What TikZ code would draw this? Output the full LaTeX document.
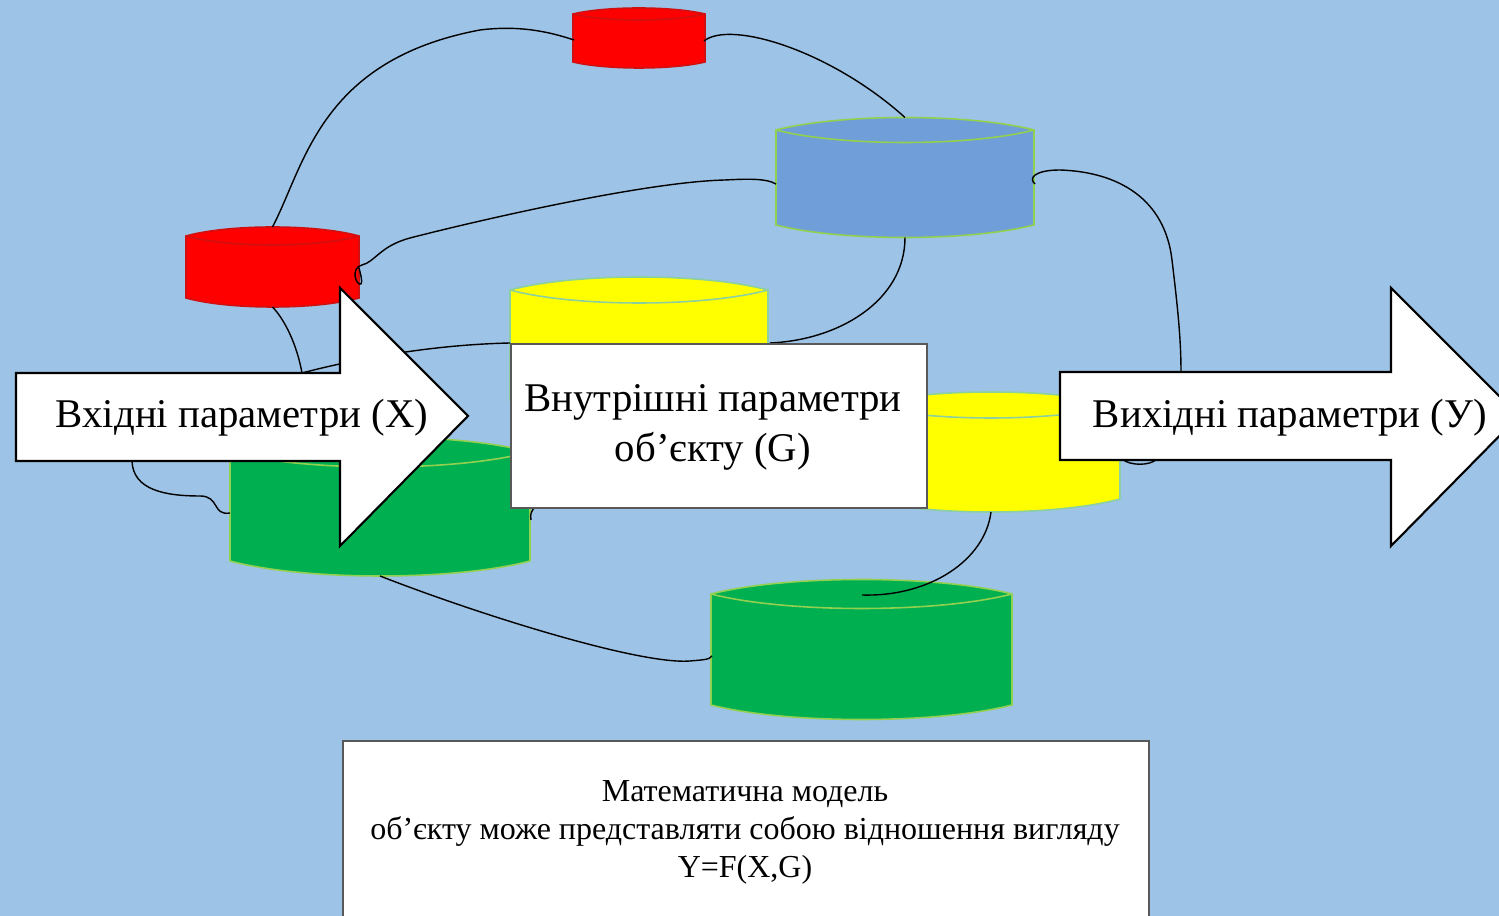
\documentclass[tikz,border=0pt]{standalone}
\usepackage{fontspec}
\setmainfont{Liberation Serif}
\usetikzlibrary{calc}
\definecolor{bgblue}{HTML}{9DC3E6}
\definecolor{cylred}{HTML}{FF0000}
\definecolor{cylredline}{HTML}{D01010}
\definecolor{cylblue}{HTML}{6F9ED8}
\definecolor{cylyellow}{HTML}{FFFF00}
\definecolor{cylgreen}{HTML}{00B050}
\definecolor{cylline}{HTML}{92D050}
\definecolor{cylcyan}{HTML}{8CCFA0}
\definecolor{boxline}{HTML}{595959}
% #1 name, #2 x1, #3 x2, #4 y top corners, #5 y bottom corners, #6 arc depth, #7 fill, #8 line
\newcommand{\mycyl}[8]{%
  \path[fill=#7,draw=#8,line width=0.45pt]
    (#2,#4) .. controls +({(#3-#2)/4},{-4*#6/3}) and +({-(#3-#2)/4},{-4*#6/3}) .. (#3,#4)
    -- (#3,#5) .. controls +({-(#3-#2)/4},{4*#6/3}) and +({(#3-#2)/4},{4*#6/3}) .. (#2,#5) -- cycle;
  \draw[#8,line width=0.45pt]
    (#2,#4) .. controls +({(#3-#2)/4},{4*#6/3}) and +({-(#3-#2)/4},{4*#6/3}) .. (#3,#4);
  \coordinate (#1-top) at ({(#2+#3)/2},{#4-#6});
  \coordinate (#1-bot) at ({(#2+#3)/2},{#5+#6});
}
\tikzset{
  conn/.style={draw=black,line width=0.4pt},
  bigarrow/.style={draw=black,fill=white,line width=0.6pt,line join=miter},
  bigtext/.style={font=\fontsize{11.6}{14.2}\selectfont,align=center,inner sep=0pt},
  smalltext/.style={font=\fontsize{9.1}{10.8}\selectfont,align=center,inner sep=0pt},
  whitebox/.style={draw=boxline,fill=white,line width=0.5pt}
}
\begin{document}
\begin{tikzpicture}[x=0.01cm,y=-0.01cm]
\useasboundingbox (0,0) rectangle (1499,916);
\clip (0,0) rectangle (1499,916);
\fill[bgblue] (0,0) rectangle (1499,916);

% cylinders
\mycyl{redT}{573}{705}{14}{62}{6}{cylred}{cylredline}
\mycyl{redL}{186}{359}{236}{298}{9}{cylred}{cylredline}
\mycyl{blue}{776}{1034}{130}{225}{12.5}{cylblue}{cylline}
\mycyl{yelU}{510}{768}{290}{400}{13}{cylyellow}{cylcyan}
\mycyl{greenL}{230}{530}{452}{561}{15}{cylgreen}{cylline}
\mycyl{yelR}{862}{1120}{405}{499}{13}{cylyellow}{cylcyan}
\mycyl{greenB}{711}{1012}{594}{705}{14.5}{cylgreen}{cylline}

% named end points
\coordinate (redT-l) at (574,40);
\coordinate (redT-r) at (704,41);
\coordinate (redL-r) at (359,268);
\coordinate (blue-l) at (776,184);
\coordinate (blue-r) at (1035,184);
\coordinate (box-tl) at (510,343);
\coordinate (box-t) at (770,343);
\coordinate (in-top) at (302,373);
\coordinate (in-bot) at (132,461);
\coordinate (out-top) at (1181,372);
\coordinate (greenL-l) at (230,513);
\coordinate (greenB-l) at (712,656);
\coordinate (greenB-in) at (862,595);
\coordinate (out-b1) at (1122,459);
\coordinate (out-b2) at (1157,459);
\coordinate (box-bl) at (535,507);
\coordinate (greenL-r) at (531,520);

% connectors
\draw[conn] (redL-top) .. controls (305,165) and (320,60) .. (480,30)
  .. controls (520,25) and (550,32) .. (redT-l);
\draw[conn] (redT-r) .. controls (730,20) and (830,50) .. (blue-top);
\draw[conn] (blue-l) .. controls (766,178) and (745,179) .. (725,180)
  .. controls (640,182) and (460,225) .. (410,238)
  .. controls (380,246) and (375,262) .. (362,265)
  .. controls (350,268) and (356,286) .. (361,284)
  .. controls (363,282) and (360,272) .. (redL-r);
\draw[conn] (blue-r) .. controls (1028,178) and (1035,170) .. (1060,170)
  .. controls (1120,172) and (1165,200) .. (1172,260)
  .. controls (1178,310) and (1181,340) .. (out-top);
\draw[conn] (blue-bot) .. controls (905,300) and (840,340) .. (box-t);
\draw[conn] (redL-bot) .. controls (285,320) and (297,345) .. (in-top)
  .. controls (340,363) and (420,345) .. (box-tl);
\draw[conn] (in-bot) .. controls (133,490) and (165,496) .. (200,496)
  .. controls (220,496) and (212,516) .. (greenL-l);
\draw[conn] (greenL-bot) .. controls (480,615) and (640,665) .. (690,661)
  .. controls (700,660) and (710,660) .. (greenB-l);
\draw[conn] (yelR-bot) .. controls (985,560) and (930,597) .. (greenB-in);
\draw[conn] (out-b1) .. controls (1130,466) and (1150,466) .. (out-b2);
\draw[conn] (box-bl) .. controls (531,511) and (530,515) .. (greenL-r);

% middle box
\node[whitebox,minimum width=4.16cm,minimum height=1.64cm,inner sep=0pt,anchor=north west] (inner) at (510,343) {};
\node[bigtext] (innertext) at (713,427) {Внутрішні параметри\\об’єкту (G)};

% input arrow
\draw[bigarrow] (16,373) -- (340,373) -- (340,288) -- (468,416) -- (340,546) -- (340,461) -- (16,461) -- cycle;
\node[bigtext] (intext) at (242,418) {Вхідні параметри (X)};

% output arrow
\draw[bigarrow] (1060,372) -- (1391,372) -- (1391,288) -- (1519,416) -- (1391,546) -- (1391,460) -- (1060,460) -- cycle;
\node[bigtext] (outtext) at (1290,418) {Вихідні параметри (У)};

% bottom box
\node[whitebox,minimum width=8.06cm,minimum height=2.2cm,inner sep=0pt,anchor=north west] (model) at (342,740) {};
\node[smalltext] (modeltext) at (745,832) {Математична модель\\об’єкту може представляти собою відношення вигляду\\Y=F(X,G)};
\end{tikzpicture}
\end{document}
